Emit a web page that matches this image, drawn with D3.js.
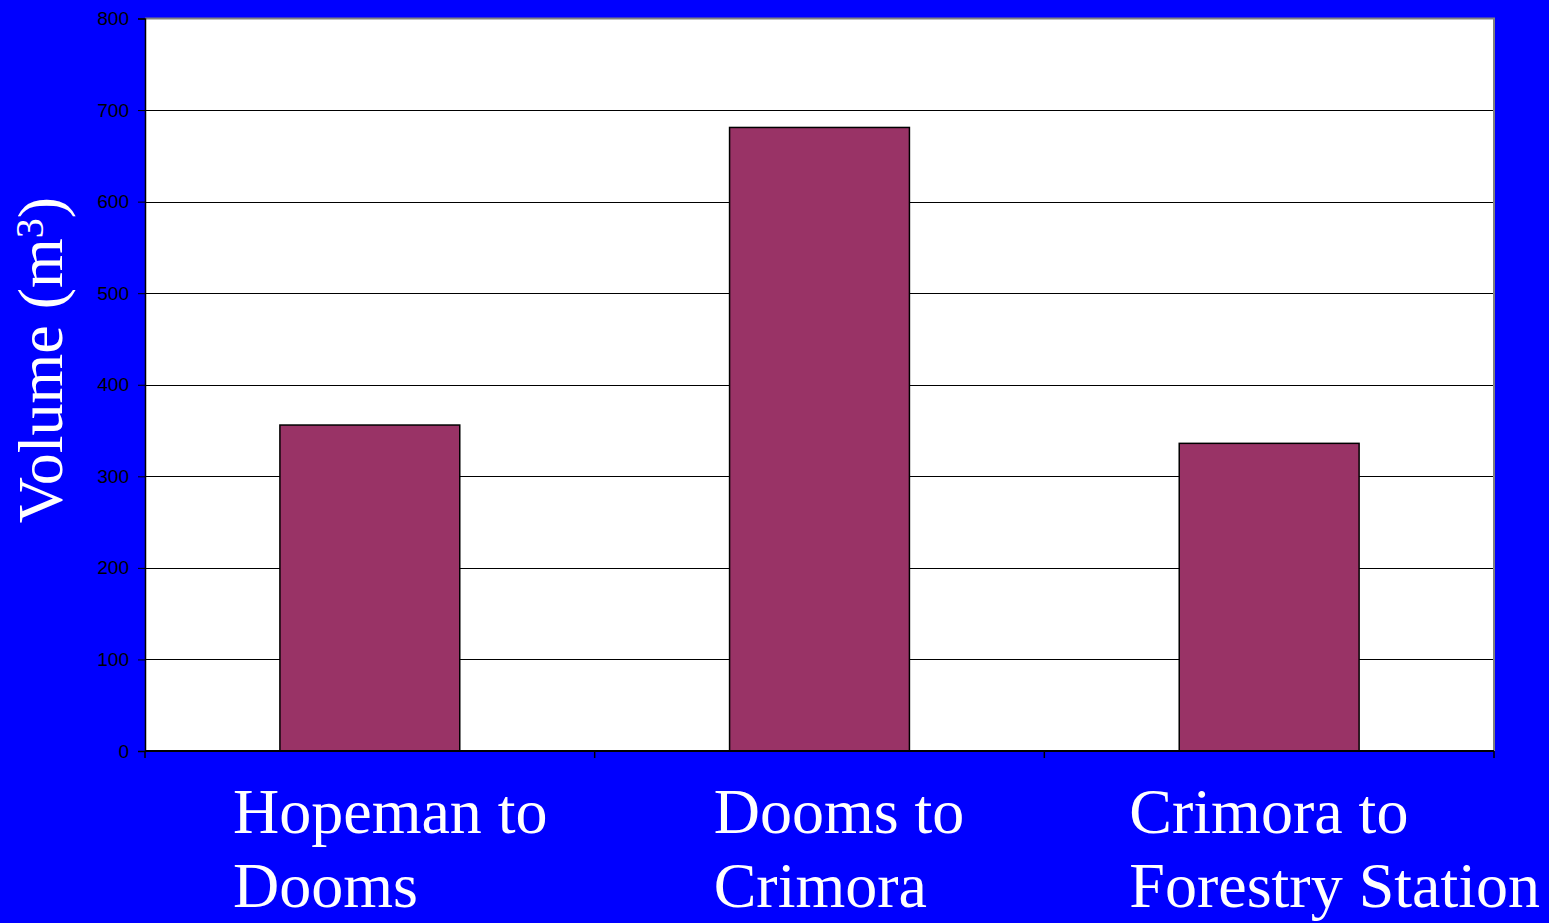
<!DOCTYPE html>
<html>
<head>
<meta charset="utf-8">
<script src="https://cdn.jsdelivr.net/npm/d3@7"></script>
<style>
  html, body { margin: 0; padding: 0; background: #0000ff; }
  svg { display: block; }
</style>
</head>
<body>
<svg id="chart" width="1549" height="923"></svg>
<script>
// Transport route segments and their volumes (m³)
const routes = ["Hopeman to Dooms", "Dooms to Crimora", "Crimora to Forestry Station"];
const routeLines = [["Hopeman to", "Dooms"], ["Dooms to", "Crimora"], ["Crimora to", "Forestry Station"]];
const volumes = [356, 681, 336];
const yTicks = [0, 100, 200, 300, 400, 500, 600, 700, 800];

// Layout
const plot = { left: 145, right: 1494, top: 18.5, bottom: 751 };
const labelShift = [88, 119, 85];   // left edge of each category label block within its slot

const svg = d3.select("#chart");

const x = d3.scaleBand()
  .domain(routes)
  .range([plot.left, plot.right])
  .paddingInner(0.6)
  .paddingOuter(0.3);

// Slots used for category boundaries and label placement
const slot = d3.scaleBand().domain(routes).range([plot.left, plot.right]);

const y = d3.scaleLinear().domain([0, 800]).range([plot.bottom, plot.top]);

// Plot area background
svg.append("rect")
  .attr("x", plot.left).attr("y", plot.top)
  .attr("width", plot.right - plot.left).attr("height", plot.bottom - plot.top)
  .attr("fill", "#ffffff");

// Horizontal gridlines
svg.append("g")
  .selectAll("line")
  .data(yTicks.filter(d => d > 0 && d < 800))
  .join("line")
  .attr("x1", plot.left).attr("x2", plot.right)
  .attr("y1", d => Math.round(y(d)) + 0.5).attr("y2", d => Math.round(y(d)) + 0.5)
  .attr("stroke", "#000").attr("stroke-width", 1);

// Top and right frame
svg.append("path")
  .attr("d", `M${plot.left},${plot.top}H${plot.right}V${plot.bottom}`)
  .attr("fill", "none").attr("stroke", "#808080").attr("stroke-width", 2);

// Bars
svg.append("g")
  .selectAll("rect")
  .data(routes)
  .join("rect")
  .attr("x", d => x(d))
  .attr("y", (d, i) => y(volumes[i]))
  .attr("width", x.bandwidth())
  .attr("height", (d, i) => y(0) - y(volumes[i]))
  .attr("fill", "#993366")
  .attr("stroke", "#000")
  .attr("stroke-width", 1.5);

// Y axis
const yAxis = svg.append("g")
  .attr("transform", `translate(${plot.left},0)`)
  .call(d3.axisLeft(y).tickValues(yTicks).tickSize(7).tickPadding(9).tickFormat(d3.format("d")));
yAxis.select(".domain").attr("stroke", "#000").attr("stroke-width", 1.5);
yAxis.selectAll(".tick line").attr("stroke", "#000");
yAxis.selectAll(".tick text")
  .attr("fill", "#000")
  .style("font-family", "'Liberation Sans', Arial, sans-serif")
  .style("font-size", "19px");

// X axis line with ticks at category boundaries
svg.append("line")
  .attr("x1", plot.left).attr("x2", plot.right)
  .attr("y1", plot.bottom).attr("y2", plot.bottom)
  .attr("stroke", "#000").attr("stroke-width", 2);
const boundaries = routes.map(d => slot(d)).concat([slot(routes[routes.length - 1]) + slot.bandwidth()]);
svg.append("g")
  .selectAll("line")
  .data(boundaries)
  .join("line")
  .attr("x1", d => d).attr("x2", d => d)
  .attr("y1", plot.bottom).attr("y2", plot.bottom + 7)
  .attr("stroke", "#000").attr("stroke-width", 1.5);

// Category labels
const catLabels = svg.append("g")
  .selectAll("text")
  .data(routes)
  .join("text")
  .attr("fill", "#ffffff")
  .style("font-family", "'Liberation Serif', 'Times New Roman', serif")
  .style("font-size", "64px");
catLabels.selectAll("tspan")
  .data((d, i) => routeLines[i].map(t => ({ t, x: slot(d) + labelShift[i] })))
  .join("tspan")
  .attr("x", d => d.x)
  .attr("y", (d, j) => 833 + j * 74)
  .text(d => d.t);

// Y axis title
const title = svg.append("text")
  .attr("transform", "translate(62,360) rotate(-90)")
  .attr("text-anchor", "middle")
  .attr("fill", "#ffffff")
  .style("font-family", "'Liberation Serif', 'Times New Roman', serif")
  .style("font-size", "64px");
title.append("tspan").text("Volume (m");
title.append("tspan").attr("dy", -19).style("font-size", "40px").text("3");
title.append("tspan").attr("dy", 19).text(")");
</script>
</body>
</html>
